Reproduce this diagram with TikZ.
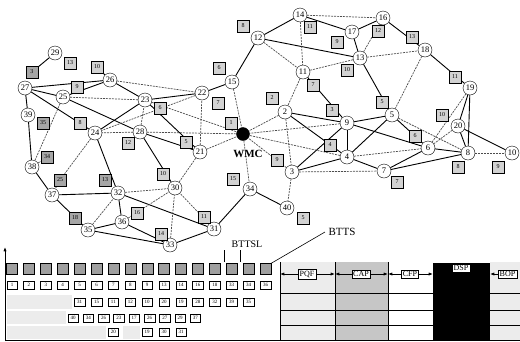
\documentclass[tikz,border=0pt]{standalone}
\usepackage{fontspec}
\setmainfont{Liberation Serif}
\usetikzlibrary{arrows.meta,backgrounds}

\begin{document}
\begin{tikzpicture}[
  x=1pt,y=-1pt,
  c/.style={draw,circle,fill=white,inner sep=0pt,minimum size=14pt,font=\fontsize{8.5}{8.5}\selectfont},
  q/.style={draw,fill=gray!35,inner sep=0pt,minimum size=12pt,font=\fontsize{6}{6}\selectfont},
  dq/.style={q,fill=gray!70},
  e/.style={line width=0.9pt},
  g/.style={gray!60!black,line width=0.7pt,dash pattern=on 2pt off 1pt},
  dk/.style={draw,fill=gray!75,minimum size=11pt,inner sep=0pt},
  t/.style={draw,fill=white,inner sep=0pt,minimum width=10.5pt,minimum height=8.5pt,font=\fontsize{5}{5}\selectfont},
  sh/.style={fill=gray!15},
  lb/.style={draw,fill=white,inner sep=1.5pt,font=\fontsize{8}{8}\selectfont},
  a/.style={-{Latex[length=1.5mm]},thick},
]
  \useasboundingbox (0,0) rectangle (520,341);

  % network: member nodes
  \node[c] (n2) at (285,112) {2};
  \node[c] (n3) at (292,172) {3};
  \node[c] (n4) at (347,157) {4};
  \node[c] (n5) at (392,115) {5};
  \node[c] (n6) at (428,148) {6};
  \node[c] (n7) at (384,171) {7};
  \node[c] (n8) at (468,153) {8};
  \node[c] (n9) at (347,123) {9};
  \node[c] (n10) at (512,153) {10};
  \node[c] (n11) at (303,72) {11};
  \node[c] (n12) at (258,38) {12};
  \node[c] (n13) at (360,58) {13};
  \node[c] (n14) at (300,15) {14};
  \node[c] (n15) at (232,82) {15};
  \node[c] (n16) at (383,18) {16};
  \node[c] (n17) at (352,32) {17};
  \node[c] (n18) at (425,50) {18};
  \node[c] (n19) at (470,88) {19};
  \node[c] (n20) at (458,126) {20};
  \node[c] (n21) at (200,152) {21};
  \node[c] (n22) at (202,93) {22};
  \node[c] (n23) at (145,100) {23};
  \node[c] (n24) at (95,133) {24};
  \node[c] (n25) at (63,97) {25};
  \node[c] (n26) at (110,80) {26};
  \node[c] (n27) at (25,88) {27};
  \node[c] (n28) at (140,132) {28};
  \node[c] (n29) at (55,53) {29};
  \node[c] (n30) at (175,188) {30};
  \node[c] (n31) at (214,229) {31};
  \node[c] (n32) at (118,193) {32};
  \node[c] (n33) at (170,245) {33};
  \node[c] (n34) at (250,189) {34};
  \node[c] (n35) at (88,230) {35};
  \node[c] (n36) at (122,222) {36};
  \node[c] (n37) at (52,195) {37};
  \node[c] (n38) at (32,167) {38};
  \node[c] (n39) at (28,115) {39};
  \node[c] (n40) at (287,208) {40};
  \node[c,fill=black,minimum size=13pt] (wmc) at (243,134) {};
  \node[font=\bfseries\fontsize{11}{11}\selectfont] (wmcl) at (248,154) {WMC};

  % BTTS slot markers
  \node[dq] (q1) at (32,72) {3};
  \node[q] (q2) at (70,63) {13};
  \node[q] (q3) at (97,67) {10};
  \node[q] (q4) at (77,87) {9};
  \node[q] (q5) at (80,123) {8};
  \node[dq] (q6) at (43,123) {35};
  \node[q] (q7) at (160,108) {6};
  \node[q] (q8) at (218,103) {7};
  \node[q] (q9) at (231,123) {1};
  \node[q] (q10) at (219,68) {6};
  \node[q] (q11) at (243,26) {8};
  \node[q] (q12) at (310,27) {11};
  \node[q] (q13) at (337,42) {9};
  \node[q] (q14) at (378,31) {12};
  \node[q] (q15) at (412,37) {13};
  \node[q] (q16) at (347,70) {10};
  \node[q] (q17) at (313,85) {7};
  \node[q] (q18) at (272,98) {2};
  \node[q] (q19) at (332,110) {3};
  \node[q] (q20) at (382,102) {5};
  \node[q] (q21) at (455,77) {11};
  \node[q] (q22) at (442,115) {10};
  \node[q] (q23) at (330,145) {4};
  \node[q] (q24) at (277,160) {9};
  \node[q] (q25) at (415,136) {6};
  \node[q] (q26) at (458,167) {8};
  \node[q] (q27) at (498,167) {9};
  \node[q] (q28) at (397,182) {7};
  \node[q] (q29) at (303,218) {5};
  \node[q] (q30) at (233,179) {15};
  \node[q] (q31) at (204,217) {11};
  \node[q] (q32) at (128,143) {12};
  \node[q] (q33) at (186,142) {5};
  \node[dq] (q34) at (47,157) {34};
  \node[dq] (q35) at (60,180) {25};
  \node[dq] (q36) at (105,180) {13};
  \node[q] (q37) at (163,174) {10};
  \node[q] (q38) at (137,213) {16};
  \node[dq] (q39) at (75,218) {18};
  \node[q] (q40) at (161,234) {14};

  \begin{scope}[on background layer]
    % solid links
    \draw[e] (n29)--(q1); \draw[e] (n27)--(n26); \draw[e] (n27)--(n25);
    \draw[e] (n27)--(n39); \draw[e] (n27)--(n24); \draw[e] (q3)--(n26);
    \draw[e] (n25)--(n26); \draw[e] (n26)--(n23); \draw[e] (n25)--(n28);
    \draw[e] (n39)--(n38); \draw[e] (n38)--(n37); \draw[e] (n37)--(n32);
    \draw[e] (n37)--(n35); \draw[e] (n35)--(n36); \draw[e] (n35)--(n33);
    \draw[e] (n36)--(n32); \draw[e] (n36)--(n33); \draw[e] (n32)--(n24);
    \draw[e] (n32)--(n31); \draw[e] (n33)--(n31); \draw[e] (n31)--(n34);
    \draw[e] (n34)--(n40); \draw[e] (n24)--(n23); \draw[e] (n23)--(n22);
    \draw[e] (n22)--(n15); \draw[e] (n15)--(n12); \draw[e] (n21)--(n28);
    \draw[e] (n28)--(n30); \draw[e] (n21)--(n23);
    \draw[e] (n12)--(n14); \draw[e] (n12)--(n13); \draw[e] (n14)--(n17);
    \draw[e] (n16)--(n17); \draw[e] (n17)--(n13); \draw[e] (n16)--(n18);
    \draw[e] (n13)--(n5); \draw[e] (n18)--(n19); \draw[e] (n19)--(n20);
    \draw[e] (n19)--(n8); \draw[e] (n20)--(n10); \draw[e] (n20)--(n8);
    \draw[e] (n11)--(n9); \draw[e] (n2)--(n9); \draw[e] (n2)--(n4);
    \draw[e] (n9)--(n5); \draw[e] (n9)--(n4); \draw[e] (n9)--(n6);
    \draw[e] (n5)--(n4); \draw[e] (n5)--(n6); \draw[e] (n4)--(n3);
    \draw[e] (n4)--(n7); \draw[e] (n7)--(n6); \draw[e] (n7)--(n8);
    \draw[e] (n6)--(n8); \draw[e] (n3)--(n9);
    % weak links
    \draw[g] (n26)--(n22); \draw[g] (n25)--(n23); \draw[g] (n25)--(n38);
    \draw[g] (n24)--(q35)--(n37); \draw[g] (n35)--(n32); \draw[g] (n36)--(n30);
    \draw[g] (n32)--(n30); \draw[g] (n33)--(n30); \draw[g] (n31)--(n30);
    \draw[g] (n30)--(n21); \draw[g] (n21)--(n22); \draw[g] (n21)--(wmc);
    \draw[g] (n28)--(n23); \draw[g] (n28)--(n24); \draw[g] (n23)--(wmc);
    \draw[g] (n28)--(wmc); \draw[g] (n15)--(wmc); \draw[g] (n22)--(n24);
    \draw[g] (n12)--(n11); \draw[g] (n14)--(n11); \draw[g] (n14)--(n16);
    \draw[g] (n16)--(n13); \draw[g] (n13)--(n11); \draw[g] (n13)--(n18);
    \draw[g] (n18)--(n5); \draw[g] (n19)--(n6); \draw[g] (n20)--(n6);
    \draw[g] (n11)--(n2); \draw[g] (n2)--(wmc); \draw[g] (n2)--(n3);
    \draw[g] (n9)--(wmc); \draw[g] (n5)--(n8); \draw[g] (n4)--(n6);
    \draw[g] (n4)--(wmc); \draw[g] (n3)--(wmc); \draw[g] (n3)--(n7);
    \draw[g] (n3)--(n40); \draw[g] (n8)--(n10); \draw[g] (wmc)--(n34);
    \draw[g] (n38)--(q34);
  \end{scope}

  % superframe
  \fill[sh] (280,262) rectangle (335,340);
  \fill[gray!45] (335,262) rectangle (388,340);
  \fill[sh] (490,262) rectangle (520,340);
  \fill[sh] (7,295) rectangle (72,309);
  \fill[sh] (7,311) rectangle (66,324);
  \fill[sh] (7,326) rectangle (106,339);
  \fill[sh] (123,326) rectangle (140,339);
  \draw[thick] (280,293) -- (520,293) (280,310) -- (520,310) (280,325) -- (520,325);
  \draw[thick] (5,340) -- (520,340);
  \draw[thick] (280,262) -- (280,340) (335,262) -- (335,340) (388,262) -- (388,340);
  \fill (433,263) rectangle (490,341);

  \coordinate (ax0) at (5,341);
  \coordinate (ax1) at (5,247);
  \draw[a] (ax0) -- (ax1);

  \node[dk] (d1) at (12,269) {}; \node[dk] (d2) at (28.9,269) {};
  \node[dk] (d3) at (45.8,269) {}; \node[dk] (d4) at (62.7,269) {};
  \node[dk] (d5) at (79.6,269) {}; \node[dk] (d6) at (96.5,269) {};
  \node[dk] (d7) at (113.4,269) {}; \node[dk] (d8) at (130.3,269) {};
  \node[dk] (d9) at (147.2,269) {}; \node[dk] (d10) at (164.1,269) {};
  \node[dk] (d11) at (181,269) {}; \node[dk] (d12) at (197.9,269) {};
  \node[dk] (d13) at (214.8,269) {}; \node[dk] (d14) at (231.7,269) {};
  \node[dk] (d15) at (248.6,269) {}; \node[dk] (d16) at (265.5,269) {};

  \node[t] (r1) at (12,285) {1}; \node[t] (r2) at (28.9,285) {2};
  \node[t] (r3) at (45.8,285) {3}; \node[t] (r4) at (62.7,285) {4};
  \node[t] (r5) at (79.6,285) {5}; \node[t] (r6) at (96.5,285) {6};
  \node[t] (r7) at (113.4,285) {7}; \node[t] (r8) at (130.3,285) {8};
  \node[t] (r9) at (147.2,285) {9}; \node[t] (r10) at (164.1,285) {13};
  \node[t] (r11) at (181,285) {14}; \node[t] (r12) at (197.9,285) {16};
  \node[t] (r13) at (214.8,285) {18}; \node[t] (r14) at (231.7,285) {33};
  \node[t] (r15) at (248.6,285) {34}; \node[t] (r16) at (265.5,285) {36};

  \node[t] (u5) at (79.6,302) {31}; \node[t] (u6) at (96.5,302) {15};
  \node[t] (u7) at (113.4,302) {11}; \node[t] (u8) at (130.3,302) {12};
  \node[t] (u9) at (147.2,302) {10}; \node[t] (u10) at (164.1,302) {20};
  \node[t] (u11) at (181,302) {19}; \node[t] (u12) at (197.9,302) {28};
  \node[t] (u13) at (214.8,302) {32}; \node[t] (u14) at (231.7,302) {39};
  \node[t] (u15) at (248.6,302) {35};

  \node[t] (v1) at (73,318) {40}; \node[t] (v2) at (88.3,318) {34};
  \node[t] (v3) at (103.6,318) {26}; \node[t] (v4) at (118.9,318) {23};
  \node[t] (v5) at (134.2,318) {17}; \node[t] (v6) at (149.5,318) {26};
  \node[t] (v7) at (164.8,318) {27}; \node[t] (v8) at (180.1,318) {29};
  \node[t] (v9) at (195.4,318) {37};

  \node[t] (w1) at (113.4,332) {20}; \node[t] (w2) at (147.2,332) {19};
  \node[t] (w3) at (164.1,332) {30}; \node[t] (w4) at (181,332) {31};

  % slot length and labels
  \node[font=\fontsize{10}{10}\selectfont] (bttsl) at (247,244) {BTTSL};
  \coordinate (l1) at (224,250); \coordinate (l2) at (224,262);
  \coordinate (l3) at (240,250); \coordinate (l4) at (240,262);
  \draw (l1) -- (l2); \draw (l3) -- (l4);
  \node[font=\fontsize{11}{11}\selectfont,anchor=west] (btts) at (325,232) {BTTS};
  \draw[semithick] (btts.west) -- (d16.north east);

  \node[lb] (pqf) at (307,274) {PQF};
  \node[lb] (cap) at (361,274) {CAP};
  \node[lb] (cfp) at (410,274) {CFP};
  \node[lb] (dsp) at (461,268) {DSP};
  \node[lb,anchor=west] (bop) at (498,274) {BOP};
  \coordinate (p0) at (280,274); \coordinate (p1) at (335,274);
  \coordinate (p2) at (388,274); \coordinate (p3) at (433,274);
  \coordinate (p4) at (490,274);
  \draw[a] (pqf) -- (p0); \draw[a] (pqf) -- (p1);
  \draw[a] (cap) -- (p1); \draw[a] (cap) -- (p2);
  \draw[a] (cfp) -- (p2); \draw[a] (cfp) -- (p3);
  \draw[a] (bop) -- (p4);
\end{tikzpicture}
\end{document}
